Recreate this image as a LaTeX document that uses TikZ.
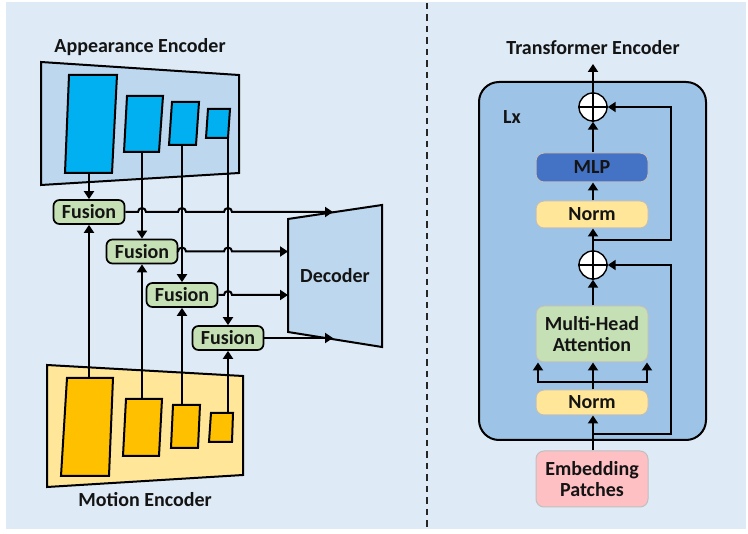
\documentclass[tikz,border=0pt]{standalone}
\usepackage{fontspec}
\setmainfont{Carlito}
\usetikzlibrary{arrows.meta}
\definecolor{bgc}{HTML}{DEEAF6}
\definecolor{appbg}{HTML}{BDD7EE}
\definecolor{appblk}{HTML}{00B0F0}
\definecolor{motbg}{HTML}{FFE699}
\definecolor{motblk}{HTML}{FFC000}
\definecolor{fusc}{HTML}{C5E0B4}
\definecolor{outerc}{HTML}{9DC3E6}
\definecolor{mlpc}{HTML}{4472C4}
\definecolor{normc}{HTML}{FFE699}
\definecolor{embc}{HTML}{FFC0C4}
\definecolor{dashc}{HTML}{262626}
\begin{document}
\begin{tikzpicture}[x=1pt,y=-1pt,
  lbl/.style={font=\fontsize{20}{22}\selectfont\bfseries, text=black!92, inner sep=0pt},
  ln/.style={line width=2pt, draw=black},
  arr/.style={ln, -{Triangle[width=10pt,length=8pt]}},
  shp/.style={line width=2pt, draw=black, line join=miter},
  fusion/.style={lbl, draw=black, line width=1.7pt, fill=fusc, rounded corners=6pt,
    minimum width=71pt, minimum height=24pt},
  tbox/.style={lbl, draw=black!25, line width=1pt, rounded corners=8pt,
    minimum width=112pt, align=center},
  plus/.style={circle, draw=black, line width=1.4pt, fill=white, minimum size=28pt, inner sep=0pt}
]
\useasboundingbox (0,0) rectangle (748,534);
\fill[white] (0,0) rectangle (748,534);
\fill[bgc] (6,2) rectangle (746,529);
\draw[dashc, line width=2.2pt, dash pattern=on 6.5pt off 5pt] (427,3) -- (427,529);

% ---------------- Left: appearance encoder
\node[lbl] (apptitle) at (140,47) {Appearance Encoder};
\draw[shp, fill=appbg] (41,62) -- (239,75) -- (239,173) -- (41,185) -- cycle;
\draw[shp, fill=appblk] (69,75) -- (117,75) -- (112,173) -- (65,173) -- cycle;
\draw[shp, fill=appblk] (127,96) -- (163,96) -- (159,152) -- (124,152) -- cycle;
\draw[shp, fill=appblk] (172,102) -- (199,102) -- (196,145) -- (169,145) -- cycle;
\draw[shp, fill=appblk] (208,109) -- (230,109) -- (228,138) -- (206,138) -- cycle;
\coordinate (a1) at (89,173);
\coordinate (a2) at (142,152);
\coordinate (a3) at (182,145);
\coordinate (a4) at (228,138);

% ---------------- Motion encoder
\draw[shp, fill=motbg] (47,365) -- (243,376) -- (243,475) -- (47,487) -- cycle;
\draw[shp, fill=motblk] (67,378) -- (113,378) -- (109,476) -- (61,476) -- cycle;
\draw[shp, fill=motblk] (126,399) -- (162,399) -- (159,456) -- (123,456) -- cycle;
\draw[shp, fill=motblk] (173,405) -- (200,405) -- (198,448) -- (171,448) -- cycle;
\draw[shp, fill=motblk] (211,413) -- (233,413) -- (232,442) -- (209,442) -- cycle;
\node[lbl] (mottitle) at (145,500) {Motion Encoder};
\coordinate (m1) at (89,378);
\coordinate (m2) at (142,399);
\coordinate (m3) at (182,405);
\coordinate (m4) at (228,413);

% ---------------- Decoder
\draw[shp, fill=appbg] (288,219) -- (382,205) -- (382,347) -- (288,332) -- cycle;
\node[lbl] (dec) at (335,276) {Decoder};
\coordinate (d1) at (333,212);
\coordinate (d2) at (288,251.5);
\coordinate (d3) at (288,295);
\coordinate (d4) at (333,338);

% ---------------- Fusion nodes
\node[fusion] (f1) at (89,212) {Fusion};
\node[fusion] (f2) at (142,251.5) {Fusion};
\node[fusion] (f3) at (182,295) {Fusion};
\node[fusion] (f4) at (228,338) {Fusion};

% vertical connectors
\draw[arr] (a1) -- (f1.north);
\draw[arr] (a2) -- (f2.north);
\draw[arr] (a3) -- (f3.north);
\draw[arr] (a4) -- (f4.north);
\draw[arr] (m1) -- (f1.south);
\draw[arr] (m2) -- (f2.south);
\draw[arr] (m3) -- (f3.south);
\draw[arr] (m4) -- (f4.south);

% horizontal connectors with hops
\draw[arr] (f1.east) -- (138,212) arc[start angle=180,end angle=0,radius=4pt]
  -- (178,212) arc[start angle=180,end angle=0,radius=4pt]
  -- (224,212) arc[start angle=180,end angle=0,radius=4pt] -- (d1);
\draw[arr] (f2.east) -- (178,251.5) arc[start angle=180,end angle=0,radius=4pt]
  -- (224,251.5) arc[start angle=180,end angle=0,radius=4pt] -- (d2);
\draw[arr] (f3.east) -- (224,295) arc[start angle=180,end angle=0,radius=4pt] -- (d3);
\draw[arr] (f4.east) -- (d4);

% ---------------- Right: transformer encoder
\node[lbl] (trtitle) at (593,48) {Transformer Encoder};
\node[draw=black, line width=2pt, fill=outerc, rounded corners=20pt,
  minimum width=227pt, minimum height=358pt, inner sep=0pt] (outer) at (592.5,261) {};
\node[lbl] (lx) at (512,117) {Lx};

\node[plus] (p1) at (593,107) {};
\draw[line width=1.4pt] (p1.north) -- (p1.south) (p1.west) -- (p1.east);
\node[plus] (p2) at (593,265) {};
\draw[line width=1.4pt] (p2.north) -- (p2.south) (p2.west) -- (p2.east);

\node[tbox, fill=mlpc, minimum height=29pt] (mlp) at (592,167.5) {MLP};
\node[tbox, fill=normc, minimum height=27pt] (norm1) at (592,214.5) {Norm};
\node[tbox, fill=fusc, minimum height=56pt] (mha) at (592,334) {Multi-Head\\[-1pt]Attention};
\node[tbox, fill=normc, minimum height=25pt] (norm2) at (592,402.5) {Norm};
\node[tbox, fill=embc, minimum height=56pt] (emb) at (592,479) {Embedding\\[-1pt]Patches};

\coordinate (topout) at (593,64);
\draw[arr] (p1.north) -- (topout);
\draw[arr] (mlp.north -| p1) -- (p1.south);
\draw[arr] (norm1.north -| p1) -- (mlp.south -| p1);
\draw[arr] (p2.north) -- (norm1.south -| p1);
\draw[arr] (mha.north -| p2) -- (p2.south);

\coordinate (r1) at (593,240);
\coordinate (r1c) at (671,240);
\draw[arr] (r1) -- (r1c) |- (p1.east);
\coordinate (r2) at (593,434);
\coordinate (r2c) at (671,434);
\draw[arr] (r2) -- (r2c) |- (p2.east);

\coordinate (sp) at (593,382);
\coordinate (sl) at (538,382);
\coordinate (sr) at (647,382);
\draw[arr] (norm2.north -| p2) -- (mha.south -| p2);
\draw[arr] (sp) -- (sl) -- (sl |- mha.south);
\draw[arr] (sp) -- (sr) -- (sr |- mha.south);
\draw[arr] (emb.north -| p2) -- (norm2.south -| p2);
\end{tikzpicture}
\end{document}
